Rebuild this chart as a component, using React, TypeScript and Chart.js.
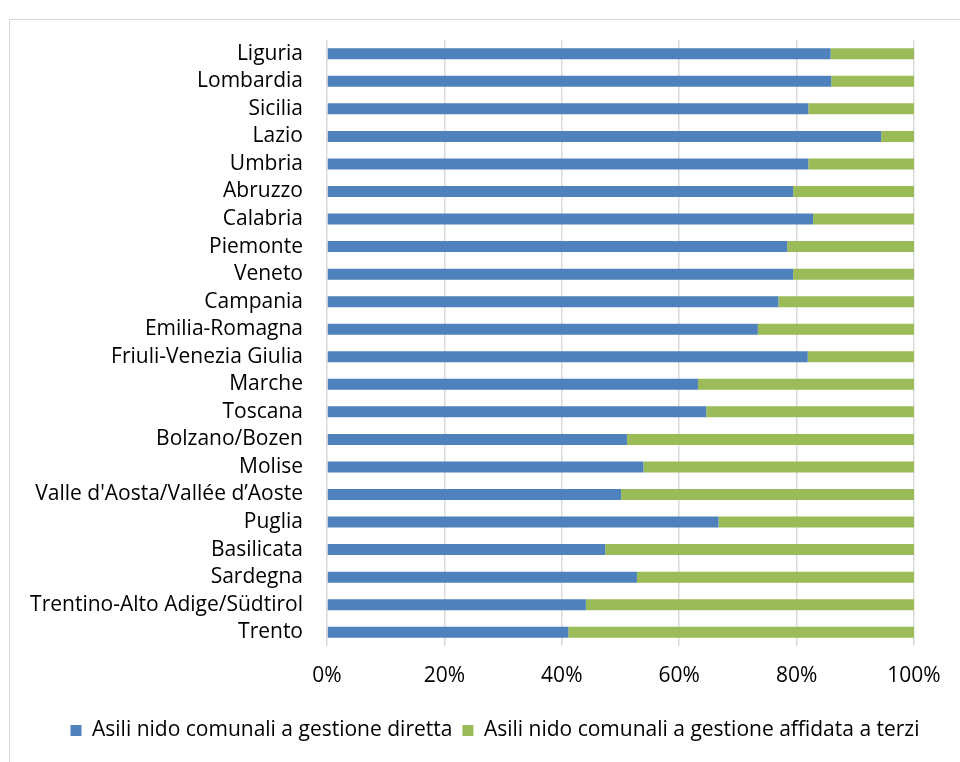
import React, { useEffect, useRef } from "react";
import { Chart, registerables } from "chart.js";

Chart.register(...registerables);

const regions = [
  "Liguria",
  "Lombardia",
  "Sicilia",
  "Lazio",
  "Umbria",
  "Abruzzo",
  "Calabria",
  "Piemonte",
  "Veneto",
  "Campania",
  "Emilia-Romagna",
  "Friuli-Venezia Giulia",
  "Marche",
  "Toscana",
  "Bolzano/Bozen",
  "Molise",
  "Valle d'Aosta/Vallée d’Aoste",
  "Puglia",
  "Basilicata",
  "Sardegna",
  "Trentino-Alto Adige/Südtirol",
  "Trento",
];

const gestioneDiretta = [
  85.8, 85.9, 82.0, 94.4, 82.0, 79.4, 82.8, 78.4, 79.4, 76.9, 73.4, 81.9,
  63.2, 64.6, 51.1, 53.9, 50.1, 66.7, 47.4, 52.8, 44.1, 41.1,
];

const gestioneAffidata = [
  14.2, 14.1, 18.0, 5.6, 18.0, 20.6, 17.2, 21.6, 20.6, 23.1, 26.6, 18.1,
  36.8, 35.4, 48.9, 46.1, 49.9, 33.3, 52.6, 47.2, 55.9, 58.9,
];

const xTicks = [0, 20, 40, 60, 80, 100];

const FONT = "'Open Sans', Lato, sans-serif";
const FONT_SIZE = 21;

const legendShift = {
  id: "legendShift",
  afterLayout(chart: any) {
    const lg = chart.legend;
    if (lg) {
      lg.left += 33;
      lg.right += 33;
    }
  },
};

export default function App() {
  const canvasRef = useRef<HTMLCanvasElement | null>(null);

  useEffect(() => {
    const canvas = canvasRef.current;
    if (!canvas) return;
    const chart = new Chart(canvas, {
      type: "bar",
      data: {
        labels: regions,
        datasets: [
          {
            label: "Asili nido comunali a gestione diretta",
            data: gestioneDiretta,
            backgroundColor: "#4F81BD",
            borderWidth: 0,
            barPercentage: 0.4,
            categoryPercentage: 1,
          },
          {
            label: "Asili nido comunali a gestione affidata a terzi",
            data: gestioneAffidata,
            backgroundColor: "#9BBB59",
            borderWidth: 0,
            barPercentage: 0.4,
            categoryPercentage: 1,
          },
        ],
      },
      plugins: [legendShift],
      options: {
        indexAxis: "y",
        animation: false,
        responsive: false,
        maintainAspectRatio: false,
        layout: { padding: { top: 20, right: 46, left: 0, bottom: 11 } },
        plugins: {
          legend: {
            position: "bottom",
            labels: {
              boxWidth: 11,
              boxHeight: 11,
              padding: 10,
              color: "#000",
              font: { family: FONT, size: FONT_SIZE },
            },
          },
          tooltip: { enabled: false },
        },
        scales: {
          x: {
            stacked: true,
            min: 0,
            max: 100,
            afterBuildTicks: (scale: any) => {
              scale.ticks = xTicks.map((v) => ({ value: v }));
            },
            afterFit: (scale: any) => {
              scale.height = 64;
              scale.paddingLeft = 0;
              scale.paddingRight = 0;
            },
            ticks: {
              callback: (v: any) => v + "%",
              color: "#000",
              padding: 17,
              font: { family: FONT, size: FONT_SIZE },
              maxRotation: 0,
            },
            grid: {
              color: "#d9d9d9",
              lineWidth: 1.5,
              drawTicks: false,
            },
            border: { display: false },
          },
          y: {
            stacked: true,
            afterFit: (scale: any) => {
              scale.width = 317;
              scale.paddingTop = 0;
              scale.paddingBottom = 0;
            },
            ticks: {
              color: "#000",
              padding: 24,
              autoSkip: false,
              font: { family: FONT, size: FONT_SIZE },
            },
            grid: { display: false, drawTicks: false },
            border: { display: false },
          },
        },
      },
    });
    return () => chart.destroy();
  }, []);

  return (
    <div
      style={{
        position: "fixed",
        left: 9,
        top: 19,
        width: 951,
        height: 743,
        borderLeft: "1px solid #d9d9d9",
        borderTop: "1px solid #d9d9d9",
        background: "#fff",
      }}
    >
      <canvas
        ref={canvasRef}
        width={950}
        height={742}
        style={{ display: "block", width: 950, height: 742 }}
      />
    </div>
  );
}
